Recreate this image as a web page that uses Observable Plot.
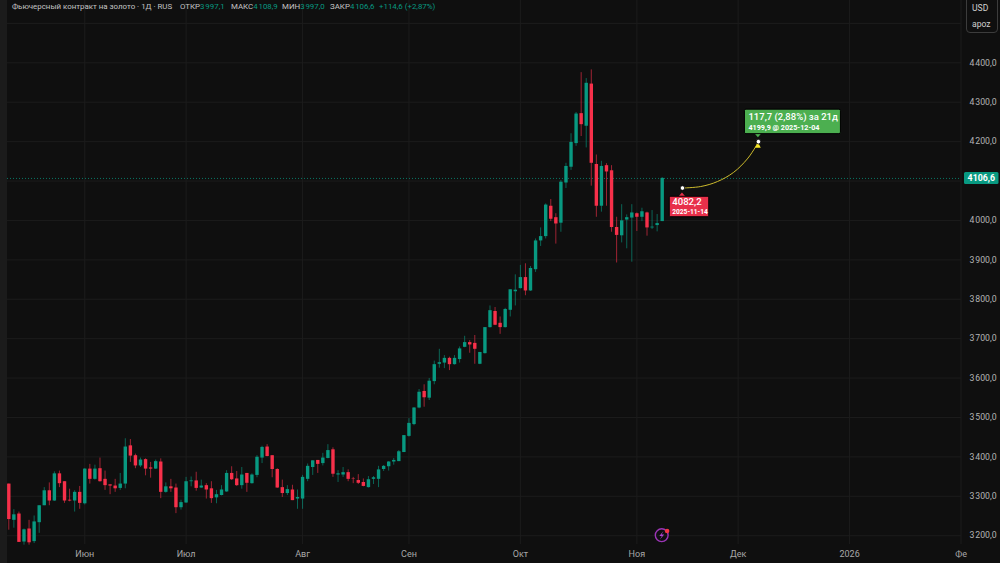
<!DOCTYPE html>
<html lang="ru"><head><meta charset="utf-8">
<script src="https://cdn.jsdelivr.net/npm/d3@7"></script>
<script src="https://cdn.jsdelivr.net/npm/@observablehq/plot@0.6"></script>
<style>
html,body{margin:0;padding:0;background:#0f0f0f;overflow:hidden}
#wrap{position:relative;width:1000px;height:563px;font-family:Roboto,sans-serif}
.h{position:absolute;top:1px;font-size:7.9px;line-height:11px;white-space:nowrap;color:#c4c4c4}
.g{color:#089981}
#sc{position:absolute;left:966px;top:-4px;width:32px;height:37px;border:1px solid #3c3c3c;border-radius:4px;box-sizing:border-box}
.u{position:absolute;left:972px;font-size:8.6px;color:#d0d0d0;white-space:nowrap}
</style></head><body>
<div id="wrap">
<div id="chart"></div>
<div class="h" style="left:12px">Фьючерсный контракт на золото · 1Д · RUS</div>
<div class="h" style="left:180px">ОТКР<span class="g">3&#8202;997,1</span></div>
<div class="h" style="left:231px">МАКС<span class="g">4&#8202;108,9</span></div>
<div class="h" style="left:282px">МИН<span class="g">3&#8202;997,0</span></div>
<div class="h" style="left:330px">ЗАКР<span class="g">4&#8202;106,6</span></div>
<div class="h g" style="left:379px">+114,6 (+2,87%)</div>
<div id="sc"></div>
<div class="u" style="top:3px">USD</div>
<div class="u" style="top:19px">apoz</div>
</div>
<script>
const open = [3331,3239,3255,3184,3217,3185,3233,3276,3314,3288,3357,3337,3290,3288,3310,3281,3369,3343,3370,3343,3329,3326,3320,3331,3428,3403,3377,3393,3372,3369,3387,3310,3324,3321,3271,3283,3337,3339,3321,3327,3319,3296,3302,3311,3358,3344,3327,3358,3332,3353,3397,3425,3403,3368,3322,3307,3316,3293,3293,3343,3373,3391,3383,3396,3418,3354,3354,3360,3344,3340,3335,3322,3343,3343,3368,3375,3387,3388,3411,3452,3482,3524,3566,3549,3591,3635,3638,3650,3634,3647,3678,3690,3688,3635,3662,3728,3769,3739,3728,3772,3819,3827,3855,3821,3875,3948,3959,4036,4007,3993,4095,4135,4195,4271,4239,4346,4142,4036,4139,4126,3982,3961,4001,4006,4017,4008,4019,3981,3987,3997.1];
const high = [3331,3266,3260,3217,3239,3250,3276,3322,3334,3362,3364,3337,3318,3314,3325,3370,3381,3379,3397,3364,3329,3343,3358,3446,3444,3407,3397,3395,3386,3392,3395,3334,3343,3331,3290,3348,3349,3361,3341,3332,3337,3315,3327,3365,3375,3363,3373,3358,3357,3403,3427,3431,3403,3370,3341,3327,3328,3316,3353,3382,3390,3391,3409,3431,3423,3365,3373,3367,3348,3355,3344,3350,3350,3376,3378,3388,3396,3416,3454,3497,3525,3571,3583,3599,3643,3673,3657,3653,3657,3679,3706,3695,3708,3665,3728,3783,3779,3755,3777,3824,3862,3886,3890,3883,3953,3981,4042,4053,4017,4101,4145,4220,4274,4375,4360,4382,4166,4150,4144,4139,4008,4040,4014,4040,4019,4031,4021,4025,4015,4108.9];
const low = [3214,3219,3183,3176,3176,3180,3206,3276,3276,3287,3322,3282,3286,3260,3267,3278,3331,3341,3336,3315,3304,3310,3315,3319,3386,3370,3373,3352,3346,3368,3294,3308,3310,3256,3265,3282,3324,3313,3320,3293,3282,3281,3301,3310,3340,3325,3318,3310,3331,3347,3383,3400,3347,3320,3297,3302,3289,3267,3267,3337,3353,3358,3377,3395,3348,3335,3348,3337,3332,3330,3324,3321,3330,3322,3363,3364,3379,3388,3411,3450,3479,3522,3526,3543,3583,3625,3624,3619,3633,3638,3677,3663,3635,3634,3661,3727,3733,3711,3727,3755,3783,3826,3809,3820,3868,3934,3953,3997,3940,3970,4081,4127,4188,4213,4184,4087,4008,4021,4036,3970,3892,3943,3928,3894,3972,3997,3960,3977,3971,3997.0];
const close = [3241,3253,3183,3215,3182,3235,3276,3314,3288,3357,3332,3288,3288,3310,3282,3369,3343,3369,3337,3327,3326,3319,3331,3425,3402,3377,3392,3369,3369,3388,3310,3324,3319,3271,3284,3337,3339,3320,3326,3316,3294,3304,3316,3358,3342,3327,3354,3333,3354,3399,3424,3401,3368,3321,3307,3317,3289,3297,3348,3376,3390,3381,3397,3416,3356,3357,3360,3343,3343,3333,3325,3342,3347,3367,3376,3387,3391,3413,3454,3485,3524,3564,3550,3592,3634,3639,3650,3634,3650,3674,3690,3684,3673,3665,3728,3771,3734,3728,3774,3824,3823,3855,3821,3878,3948,3959,4039,4003,3991,4097,4137,4198,4270,4243,4348,4145,4036,4137,4123,3982,3962,3999,4007,4019,4008,4022,3981,3983,3992,4106.6];

const priceTicks = [3200,3300,3400,3500,3600,3700,3800,3900,4000,4200,4300,4400];
const priceGrid = [...priceTicks, 4100, 4500];
const monthIdx = [15,35,58,79,101,124,144,166,188];
const monthLabels = ["Июн","Июл","Авг","Сен","Окт","Ноя","Дек","2026","Фе"];

const forecastIdx = [133,136.6,139.9,143.1,145.8,147.4,148];
const forecastPrice = [4082.2,4086,4098.6,4122,4156,4186,4199.9];
const lastPrice = 4106.6;
const lastLabel = "4106,6";
const fromLabel = ["4082,2","2025-11-14"];
const toLabel = ["117,7 (2,88%) за 21д","4199,9 @ 2025-12-04"];

const bars = open.map((o,i)=>({i,o,h:high[i],l:low[i],c:close[i]}));
const colour = d => d.c>=d.o ? "#089981" : "#f7304a";
const fmt = v => { const s=v.toFixed(1).replace(".",","); return s[0]+"\u200A"+s.slice(1); };
const curve = forecastIdx.map((x,k)=>({x,y:forecastPrice[k]}));
const first = curve[0], last = curve[curve.length-1];

const leftStrip = (_, s, v, dim) => {
  const g=d3.create("svg:g");
  g.append("rect").attr("x",0).attr("y",0).attr("width",dim.marginLeft).attr("height",dim.height).attr("fill","#1b1b1b");
  return g.node();
};
const boxes = (_, s) => {
  const g=d3.create("svg:g");
  const tx=s.x(last.x), ty=s.y(last.y), fx=s.x(first.x), fy=s.y(first.y);
  g.append("path").attr("d",`M${tx-3.5} ${ty-8}L${tx} ${ty-4}L${tx+3.5} ${ty-8}Z`).attr("fill","#4caf50");
  g.append("rect").attr("x",tx-13.5).attr("y",ty-32).attr("width",96).attr("height",24.5).attr("rx",1.5)
    .attr("fill","#4caf50").attr("stroke","#000").attr("stroke-width",1);
  g.append("path").attr("d",`M${fx-3.5} ${fy+9}L${fx} ${fy+5}L${fx+3.5} ${fy+9}Z`).attr("fill","#e8304a");
  g.append("rect").attr("x",fx-12.7).attr("y",fy+8.7).attr("width",39.5).attr("height",20.5).attr("rx",1.5)
    .attr("fill","#e8304a").attr("stroke","#000").attr("stroke-width",1);
  return g.node();
};
const arrowHead = (_, s) => {
  const g=d3.create("svg:g");
  const tx=s.x(last.x), ty=s.y(last.y);
  g.append("path").attr("d",`M${tx-3} ${ty+6.5}L${tx+0.1} ${ty+1}L${tx+2.8} ${ty+6.5}Z`).attr("fill","#f5e628");
  return g.node();
};
const priceTag = (_, s) => {
  const g=d3.create("svg:g");
  const y=s.y(lastPrice);
  g.append("rect").attr("x",964).attr("y",y-6).attr("width",34.5).attr("height",12).attr("rx",1.5).attr("fill","#089981");
  return g.node();
};
const bolt = (_, s) => {
  const g=d3.create("svg:g");
  const cx=s.x(129), cy=s.y(3200);
  g.append("circle").attr("cx",cx).attr("cy",cy).attr("r",6.4).attr("fill","none").attr("stroke","#9b35b5").attr("stroke-width",1.4);
  g.append("path").attr("d",`M${cx+1.8} ${cy-4.2}L${cx-2.4} ${cy+0.7}L${cx+0.1} ${cy+0.7}L${cx-1.8} ${cy+4.2}L${cx+2.5} ${cy-0.8}L${cx-0.1} ${cy-0.8}Z`).attr("fill","#b044d0");
  g.append("circle").attr("cx",cx+5.4).attr("cy",cy-4.2).attr("r",2.3).attr("fill","#f23645");
  return g.node();
};

const chart = Plot.plot({
  width:1000, height:563,
  marginLeft:7, marginRight:39, marginTop:0, marginBottom:19,
  style:{background:"#0f0f0f", fontFamily:"Roboto, sans-serif", overflow:"hidden"},
  x:{type:"linear", domain:[0,129], range:[8.3,661.7]},
  y:{type:"linear", domain:[3200,4400], range:[535.2,62.3]},
  marks:[
    leftStrip,
    Plot.gridY(priceGrid,{stroke:"#1c1c1c",strokeOpacity:1}),
    Plot.gridX(monthIdx,{stroke:"#1c1c1c",strokeOpacity:1}),
    Plot.axisY(priceTicks,{anchor:"right",tickSize:0,tickPadding:8,tickFormat:fmt,fill:"#b4b4b4",fontSize:8.7,label:null}),
    Plot.axisX(monthIdx,{anchor:"bottom",tickSize:0,tickPadding:6,tickFormat:(d,k)=>monthLabels[k],fill:"#a8a8a8",fontSize:9,label:null}),
    Plot.ruleY([lastPrice],{stroke:"#089981",strokeDasharray:"1 2",strokeOpacity:0.75}),
    Plot.ruleX(bars,{x:"i",y1:"l",y2:"h",stroke:colour,strokeWidth:1,strokeOpacity:0.62}),
    Plot.ruleX(bars,{x:"i",y1:"o",y2:"c",stroke:colour,strokeWidth:3.4}),
    Plot.line(curve,{x:"x",y:"y",curve:"catmull-rom",stroke:"#cdbb2c",strokeWidth:1}),
    boxes,
    arrowHead,
    Plot.dot([first,last],{x:"x",y:"y",r:2.3,fill:"#fff",stroke:"#000",strokeWidth:0.8}),
    Plot.text([first],{x:"x",y:"y",text:()=>fromLabel[0],dx:-10.2,dy:13.8,textAnchor:"start",fill:"#fff",fontSize:9.6,fontWeight:500}),
    Plot.text([first],{x:"x",y:"y",text:()=>fromLabel[1],dx:-10.2,dy:24,textAnchor:"start",fill:"#fff",fontSize:6.6,fontWeight:700}),
    Plot.text([last],{x:"x",y:"y",text:()=>toLabel[0],dx:-10,dy:-25,textAnchor:"start",fill:"#fff",fontSize:9.5,fontWeight:500}),
    Plot.text([last],{x:"x",y:"y",text:()=>toLabel[1],dx:-10,dy:-13.7,textAnchor:"start",fill:"#fff",fontSize:7.2,fontWeight:700}),
    priceTag,
    Plot.text([lastPrice],{x:()=>192,y:d=>d,text:()=>lastLabel,fill:"#fff",fontSize:8.8,fontWeight:700,textAnchor:"middle"}),
    bolt
  ]
});
document.getElementById("chart").append(chart);
</script>
</body></html>
